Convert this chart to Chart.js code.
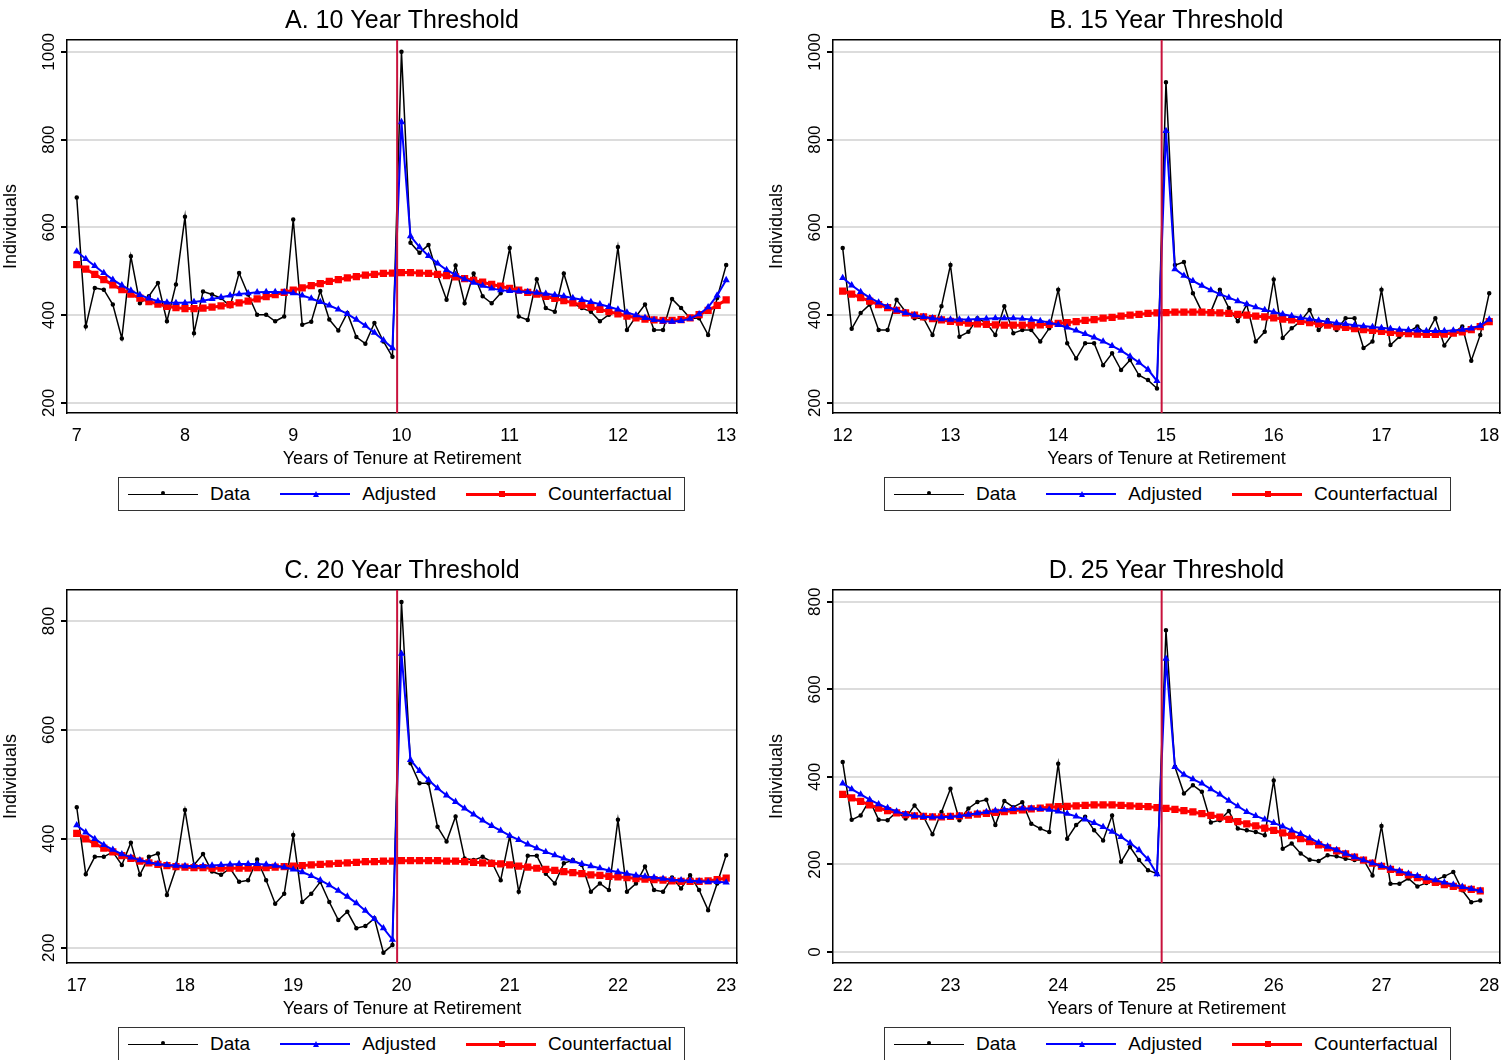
<!DOCTYPE html>
<html>
<head>
<meta charset="utf-8">
<script src="https://cdn.jsdelivr.net/npm/chart.js@4"></script>
<style>
  body { margin: 0; background: #fff; font-family: "Liberation Sans", Arial, sans-serif; }
  .panel { position: absolute; width: 753px; height: 530px; }
  .legend { position: absolute; top: 477px; left: 118px; width: 567px; height: 34px; border: 1px solid #333;
            display: flex; align-items: center; font-size: 19px; color: #000; box-sizing: border-box; }
  .item { display: flex; align-items: center; margin-left: 30px; }
  .item:first-child { margin-left: 9px; }
  .item span.ln { display: inline-block; width: 70px; height: 0; margin-right: 12px; position: relative; }
</style>
</head>
<body>
<div class="panel" style="left:0;top:0"><canvas id="cA" width="753" height="470"></canvas><div class="legend"></div></div>
<div class="panel" style="left:766px;top:0"><canvas id="cB" width="741" height="470"></canvas><div class="legend"></div></div>
<div class="panel" style="left:0;top:550px"><canvas id="cC" width="753" height="470"></canvas><div class="legend"></div></div>
<div class="panel" style="left:766px;top:550px"><canvas id="cD" width="741" height="470"></canvas><div class="legend"></div></div>
<script>
// panel A: 10 year threshold, monthly from 7.0 to 13.0
var dataA = [668,374,462,458,424,347,534,427,443,473,386,470,624,359,454,447,439,420,496,447,401,401,386,397,
  618,378,385,455,390,365,405,350,335,382,340,305,
  1000,565,542,560,492,435,513,427,495,443,427,450,553,397,389,482,416,408,495,427,416,408,386,401,
  555,366,397,424,366,366,437,416,393,393,355,439,514];
var adjA = [545,528,512,496,481,468,456,446,438,432,429,428,428,430,433,437,441,445,448,450,452,453,453,452,
  450,445,438,430,422,413,403,390,376,360,343,325,
  840,580,555,535,518,503,492,482,474,467,461,457,455,454,453,451,449,446,443,439,435,430,425,419,
  413,406,400,394,389,386,385,387,392,402,418,445,480];
var cfA = [515,505,493,481,469,458,448,439,431,425,420,417,415,415,416,418,421,424,428,432,437,442,447,452,
  457,462,467,472,477,481,485,488,491,493,495,496,497,497,496,495,493,490,487,483,479,475,470,466,
  461,457,452,448,443,438,433,428,423,418,413,408,403,398,394,391,389,388,388,390,394,401,411,422,435];

// panel B: 15 year threshold
var dataB = [553,369,405,424,366,366,435,408,393,393,355,420,514,351,362,393,382,355,420,359,366,366,340,370,
  458,336,301,336,336,286,313,275,298,263,252,233,
  931,514,521,450,408,408,458,416,386,424,340,362,481,348,370,386,412,366,389,366,393,393,325,340,
  458,332,351,362,374,355,393,331,359,374,296,355,450];
var adjB = [485,468,453,440,429,419,411,405,400,396,393,391,390,390,390,391,392,393,393,393,392,390,387,383,
  378,372,365,357,349,340,330,319,306,292,276,250,
  820,505,490,478,467,457,448,440,432,425,418,412,407,402,398,394,391,388,385,382,380,377,375,373,
  371,369,367,366,365,364,364,364,365,367,370,376,390];
var cfB = [455,448,440,432,424,417,411,405,400,396,392,389,386,384,382,380,379,378,377,377,377,377,378,379,
  381,383,385,388,390,393,395,398,400,402,404,405,406,407,407,407,407,406,405,404,402,400,398,396,
  394,391,389,386,383,380,377,374,372,369,367,365,363,361,359,358,357,356,356,357,359,362,367,374,385];

// panel C: 20 year threshold
var dataC = [458,335,367,367,376,352,393,334,367,373,297,346,453,352,372,340,334,346,321,324,362,324,281,299,
  407,284,299,321,284,251,266,236,240,254,191,205,
  835,539,502,502,422,395,441,364,361,367,358,324,405,303,369,369,336,318,355,361,352,303,318,306,
  435,303,318,349,306,303,329,309,333,306,269,318,370];
var adjC = [425,412,400,389,380,372,366,361,357,354,352,351,350,350,350,351,352,353,354,354,354,353,351,348,
  344,339,332,324,315,305,294,282,268,253,236,215,
  740,545,525,508,493,480,468,456,445,434,424,415,406,398,390,383,376,370,364,359,354,350,346,342,
  339,336,333,331,329,327,325,324,323,322,321,321,320];
var cfC = [410,400,391,383,376,369,364,359,356,353,351,349,348,347,347,346,346,346,346,346,347,347,348,349,
  350,351,352,353,354,355,356,357,358,358,359,359,360,360,360,360,360,359,359,358,357,356,355,354,
  352,350,348,346,344,342,340,338,336,334,333,331,330,329,327,326,325,324,323,322,322,322,323,325,328];

// panel D: 25 year threshold, ends at 27.92
var dataD = [434,302,312,347,302,301,320,305,335,309,269,320,373,301,328,343,348,290,345,331,342,293,282,274,
  430,259,290,309,278,255,312,206,240,210,187,179,
  735,423,362,381,366,296,301,322,282,278,274,267,392,236,248,225,211,208,221,219,213,210,211,175,
  288,156,156,168,150,158,164,173,183,141,114,118];
var adjD = [385,372,360,348,338,329,321,315,311,309,308,308,309,311,314,317,320,323,325,327,328,328,327,325,
  321,316,310,303,295,286,275,263,249,233,212,178,
  670,423,405,395,385,372,360,346,333,320,311,303,295,287,278,270,260,250,241,233,225,217,210,203,
  197,191,185,179,174,169,164,159,154,149,144,140];
var cfD = [360,352,344,336,329,323,318,314,311,310,309,309,310,311,313,315,317,319,321,323,325,327,329,331,
  332,333,334,335,336,336,336,335,334,333,332,330,328,326,323,320,316,312,308,303,298,293,288,283,
  278,272,266,259,252,245,238,231,224,217,210,203,196,189,182,176,170,164,159,154,150,146,143,140];

// tick labels
var yTicksAB = [200, 400, 600, 800, 1000];
var yTicksC = [200, 400, 600, 800];
var yTicksD = [0, 200, 400, 600, 800];
var xTicksA = [7, 8, 9, 10, 11, 12, 13];
var xTicksB = [12, 13, 14, 15, 16, 17, 18];
var xTicksC = [17, 18, 19, 20, 21, 22, 23];
var xTicksD = [22, 23, 24, 25, 26, 27, 28];

var panels = [
  {id: 'cA', title: 'A. 10 Year Threshold', start: 7, cut: 10, ymin: 177, ymax: 1027, yt: yTicksAB, xt: xTicksA, d: dataA, a: adjA, c: cfA, pr: 16},
  {id: 'cB', title: 'B. 15 Year Threshold', start: 12, cut: 15, ymin: 177, ymax: 1027, yt: yTicksAB, xt: xTicksB, d: dataB, a: adjB, c: cfB, pr: 4},
  {id: 'cC', title: 'C. 20 Year Threshold', start: 17, cut: 20, ymin: 172, ymax: 857, yt: yTicksC, xt: xTicksC, d: dataC, a: adjC, c: cfC, pr: 16},
  {id: 'cD', title: 'D. 25 Year Threshold', start: 22, cut: 25, ymin: -25, ymax: 827, yt: yTicksD, xt: xTicksD, d: dataD, a: adjD, c: cfD, pr: 4}
];

function pts(start, arr) {
  return arr.map(function (v, k) { return {x: start + k / 12, y: v}; });
}

var font = "'Liberation Sans', Arial, sans-serif";
Chart.defaults.font.family = font;
Chart.defaults.color = '#000';

// title over plot centre, threshold line, rotated y tick labels
var extras = {
  id: 'extras',
  afterDatasetsDraw: function (chart, args, opts) {
    var ctx = chart.ctx, area = chart.chartArea;
    var x = chart.scales.x.getPixelForValue(opts.at - 0.04);
    ctx.save();
    ctx.strokeStyle = '#c8123c';
    ctx.lineWidth = 2;
    ctx.beginPath();
    ctx.moveTo(x, area.top);
    ctx.lineTo(x, area.bottom);
    ctx.stroke();
    ctx.restore();
  },
  afterDraw: function (chart, args, opts) {
    var ctx = chart.ctx, ys = chart.scales.y, area = chart.chartArea;
    ctx.save();
    ctx.fillStyle = '#000';
    ctx.font = '25px ' + font;
    ctx.textAlign = 'center';
    ctx.textBaseline = 'middle';
    ctx.fillText(opts.title, (area.left + area.right) / 2, 21);
    ctx.font = '17px ' + font;
    ctx.textBaseline = 'bottom';
    opts.ticks.forEach(function (v) {
      var py = ys.getPixelForValue(v);
      ctx.save();
      ctx.translate(ys.right - 9, py);
      ctx.rotate(-Math.PI / 2);
      ctx.fillText(String(v), 0, 0);
      ctx.restore();
    });
    ctx.restore();
  }
};

panels.forEach(function (p) {
  var ctx = document.getElementById(p.id).getContext('2d');
  new Chart(ctx, {
    type: 'line',
    data: {
      datasets: [
        {label: 'Data', data: pts(p.start, p.d), borderColor: '#000', backgroundColor: '#000',
         borderWidth: 1.5, pointRadius: 1.5, pointStyle: 'circle', order: 3},
        {label: 'Counterfactual', data: pts(p.start, p.c), borderColor: '#ff0000', backgroundColor: '#ff0000',
         borderWidth: 3, pointRadius: 3, pointStyle: 'rect', order: 2},
        {label: 'Adjusted', data: pts(p.start, p.a), borderColor: '#0000ff', backgroundColor: '#0000ff',
         borderWidth: 2, pointRadius: 2.2, pointStyle: 'triangle', order: 1}
      ]
    },
    options: {
      responsive: false,
      animation: false,
      plugins: {
        legend: {display: false},
        tooltip: {enabled: false},
        title: {display: false},
        extras: {at: p.cut, ticks: p.yt, title: p.title}
      },
      layout: {padding: {left: 0, right: p.pr, top: 40, bottom: 0}},
      scales: {
        x: {
          type: 'linear', min: p.start - 0.09, max: p.start + 6.1,
          grid: {display: false, drawTicks: true, tickLength: 6, tickColor: '#000'},
          border: {color: '#000', width: 1.5},
          ticks: {font: {size: 18}, maxRotation: 0, padding: 6},
          afterBuildTicks: function (s) { s.ticks = p.xt.map(function (v) { return {value: v}; }); },
          afterFit: function (s) { s.height = 57; },
          title: {display: true, text: 'Years of Tenure at Retirement', font: {size: 18}, padding: {top: -8, bottom: 0}}
        },
        x2: {
          type: 'linear', position: 'top', min: 0, max: 1,
          grid: {display: false}, border: {color: '#000', width: 1.5}, ticks: {display: false},
          afterFit: function (s) { s.height = 0; }
        },
        y: {
          min: p.ymin, max: p.ymax,
          grid: {color: '#dcdcdc', lineWidth: 2, tickColor: '#000', tickLength: 6},
          border: {color: '#000', width: 1.5},
          ticks: {font: {size: 17}, color: 'rgba(0,0,0,0)'},
          afterBuildTicks: function (s) { s.ticks = p.yt.map(function (v) { return {value: v}; }); },
          afterFit: function (s) { s.width = 67; },
          title: {display: true, text: 'Individuals', font: {size: 18}, padding: 0}
        },
        y2: {
          position: 'right', min: 0, max: 1,
          grid: {display: false}, border: {color: '#000', width: 1.5}, ticks: {display: false},
          afterFit: function (s) { s.width = 0; }
        }
      }
    },
    plugins: [extras]
  });

  var items = [['Data', '#000', 'circle'], ['Adjusted', '#0000ff', 'tri'], ['Counterfactual', '#ff0000', 'sq']];
  var leg = document.getElementById(p.id).parentNode.querySelector('.legend');
  items.forEach(function (it) {
    var w = it[0] === 'Data' ? 1.5 : (it[0] === 'Adjusted' ? 2 : 3);
    var mk = it[2] === 'circle' ? 'width:4px;height:4px;border-radius:50%;background:' + it[1] :
             it[2] === 'sq' ? 'width:6px;height:6px;background:' + it[1] :
             'width:0;height:0;border-left:3px solid transparent;border-right:3px solid transparent;border-bottom:6px solid ' + it[1];
    var d = document.createElement('div');
    d.className = 'item';
    d.innerHTML = '<span class="ln" style="border-top:' + w + 'px solid ' + it[1] + '">' +
      '<span style="position:absolute;left:33px;top:' + (-3 - w / 2) + 'px;' + mk + '"></span></span>' + it[0];
    leg.appendChild(d);
  });
});
</script>
</body>
</html>
